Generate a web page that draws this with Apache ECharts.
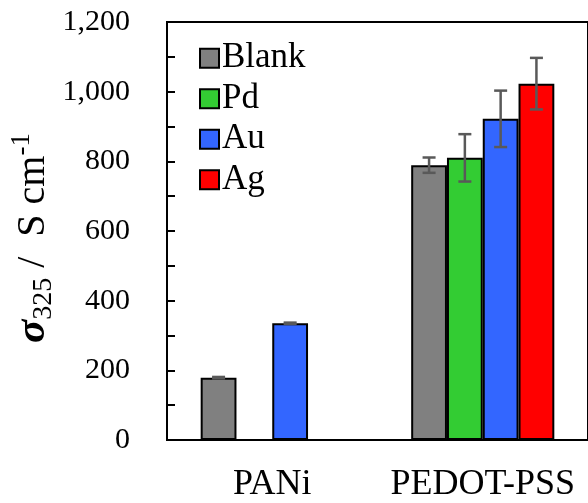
<!DOCTYPE html>
<html>
<head>
<meta charset="utf-8">
<script src="https://cdn.jsdelivr.net/npm/echarts@6/dist/echarts.min.js"></script>
<style>html,body{margin:0;padding:0;background:#fff;}#c{width:588px;height:503px;}</style>
</head>
<body>
<div id="c"></div>
<script>
const categories = ['PANi', 'PEDOT-PSS'];
const seriesNames = ['Blank', 'Pd', 'Au', 'Ag'];
const blankVals = [179, 789];
const pdVals = [null, 810];
const auVals = [335, 922];
const agVals = [null, 1023];
const blankErr = [2, 22];
const pdErr = [null, 68];
const auErr = [2, 81];
const agErr = [null, 74];
const yTicks = [0, 200, 400, 600, 800, 1000, 1200];

const colors = ['#808080', '#33CC33', '#3366FF', '#FF0000'];
const values = [blankVals, pdVals, auVals, agVals];
const errs = [blankErr, pdErr, auErr, agErr];
const GAP = 0.32;
const FONT = '"Liberation Serif", "Times New Roman", serif';

const chart = echarts.init(document.getElementById('c'), null, {renderer: 'canvas'});

const barSeries = seriesNames.map((n, i) => ({
  name: n,
  type: 'bar',
  data: values[i].map(v => v == null ? '-' : v),
  barGap: 0,
  barCategoryGap: (GAP * 100) + '%',
  itemStyle: {color: colors[i], borderColor: '#000', borderWidth: 2},
  z: 2
}));

const errData = [];
errs.forEach((arr, si) => arr.forEach((e, ci) => {
  if (e != null && values[si][ci] != null) errData.push([ci, values[si][ci], e, si]);
}));

const errSeries = {
  type: 'custom',
  name: 'err',
  data: errData,
  z: 5,
  silent: true,
  renderItem: function (params, api) {
    const ci = api.value(0), v = api.value(1), e = api.value(2), si = api.value(3);
    const catW = api.size([1, 0])[0];
    const groupW = catW * (1 - GAP);
    const bw = groupW / seriesNames.length;
    const cx = api.coord([ci, v])[0] - groupW / 2 + bw * (si + 0.5);
    const yT = api.coord([ci, v + e])[1];
    const yB = api.coord([ci, v - e])[1];
    const cap = 6.5;
    const st = {stroke: '#595959', lineWidth: 2.5};
    return {
      type: 'group',
      children: [
        {type: 'line', shape: {x1: cx, y1: yT, x2: cx, y2: yB}, style: st},
        {type: 'line', shape: {x1: cx - cap, y1: yT, x2: cx + cap, y2: yT}, style: st},
        {type: 'line', shape: {x1: cx - cap, y1: yB, x2: cx + cap, y2: yB}, style: st}
      ]
    };
  }
};

chart.setOption({
  animation: false,
  backgroundColor: '#fff',
  grid: {left: 167, top: 22, right: -6, bottom: 58, show: true, borderColor: '#000', borderWidth: 2, backgroundColor: 'transparent'},
  legend: {
    data: seriesNames,
    orient: 'vertical',
    left: 194,
    top: 33,
    itemWidth: 19,
    itemHeight: 19,
    itemGap: 0,
    icon: 'rect',
    textStyle: {fontFamily: FONT, fontSize: 35, color: '#000', lineHeight: 40.5, padding: [0, 0, 0, -2]}
  },
  xAxis: {
    type: 'category',
    data: categories,
    axisLine: {show: true, lineStyle: {color: '#000', width: 2}},
    axisTick: {show: false},
    axisLabel: {fontFamily: FONT, fontSize: 36, color: '#000', margin: 27, interval: 0, hideOverlap: false}
  },
  yAxis: {
    type: 'value',
    min: 0,
    max: 1200,
    interval: 100,
    axisLine: {show: true, lineStyle: {color: '#000', width: 2}},
    axisTick: {show: true, inside: true, length: 8, lineStyle: {color: '#000', width: 2}},
    splitLine: {show: false},
    axisLabel: {
      fontFamily: FONT, fontSize: 30, color: '#000', margin: 37,
      formatter: v => yTicks.indexOf(v) >= 0 ? v.toLocaleString('en-US') : ''
    }
  },
  graphic: [{
    type: 'text',
    x: 33,
    y: 238,
    rotation: Math.PI / 2,
    style: {
      text: '{a|σ}{b|325}{c| /  S cm}{d|-1}',
      align: 'center',
      verticalAlign: 'middle',
      fill: '#000',
      rich: {
        a: {fontFamily: FONT, fontSize: 43, fontWeight: 'bold', fontStyle: 'italic', fill: '#000', verticalAlign: 'middle'},
        b: {fontFamily: FONT, fontSize: 28, fill: '#000', padding: [22, 0, 0, 0], verticalAlign: 'middle'},
        c: {fontFamily: FONT, fontSize: 40, fill: '#000', verticalAlign: 'middle'},
        d: {fontFamily: FONT, fontSize: 27, fill: '#000', padding: [0, 0, 22, 0], verticalAlign: 'middle'}
      }
    }
  }],
  series: barSeries.concat([errSeries])
});
</script>
</body>
</html>
